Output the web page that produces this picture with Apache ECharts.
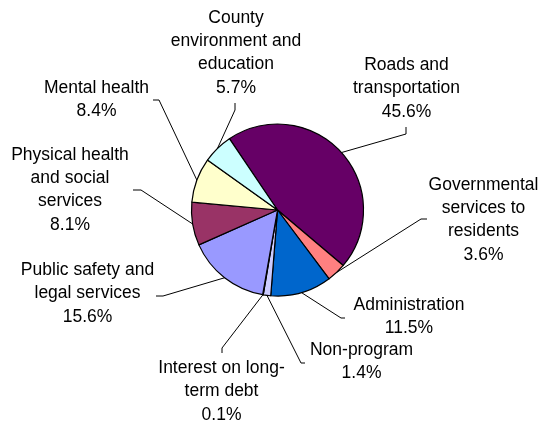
<!DOCTYPE html>
<html>
<head>
<meta charset="utf-8">
<script src="https://cdn.jsdelivr.net/npm/echarts@6/dist/echarts.min.js"></script>
<style>
html,body{margin:0;padding:0;background:#fff;}
#c{width:543px;height:422px;}
</style>
</head>
<body>
<div id="c"></div>
<script>
// Data (clockwise starting with Roads)
const categories = [
  "Roads and transportation",
  "Governmental services to residents",
  "Administration",
  "Non-program",
  "Interest on long-term debt",
  "Public safety and legal services",
  "Physical health and social services",
  "Mental health",
  "County environment and education"
];
const labelTexts = [
  "Roads and\ntransportation",
  "Governmental\nservices to\nresidents",
  "Administration",
  "Non-program",
  "Interest on long-\nterm debt",
  "Public safety and\nlegal services",
  "Physical health\nand social\nservices",
  "Mental health",
  "County\nenvironment and\neducation"
];
const percents = [45.6, 3.6, 11.5, 1.4, 0.1, 15.6, 8.1, 8.4, 5.7];
const colors = ["#660066", "#FF8080", "#0066CC", "#CCCCFF", "#000080", "#9999FF", "#993366", "#FFFFCC", "#CCFFFF"];

// Label layout: [labelCenterX, labelCenterY, lineEndX, lineEndY, elbowX, elbowY]
const labelLayoutPos = [
  [406.5, 88.5, 406, 127, 406, 134],
  [483.5, 220, 427, 219, 421, 219],
  [409, 316.5, 345, 318, 341, 318],
  [361.5, 362, 305, 363, 301, 363],
  [221.5, 391.5, 222, 353, 222, 348],
  [87.5, 293.5, 156, 296, 163, 296],
  [70, 190, 133, 190, 141, 190],
  [96.5, 100, 153, 100, 159, 100],
  [236, 53, 235, 103, 235, 110]
];

const chart = echarts.init(document.getElementById('c'), null, {renderer: 'canvas'});
chart.setOption({
  backgroundColor: '#ffffff',
  animation: false,
  series: [{
    type: 'pie',
    center: [277.5, 210],
    radius: 86,
    startAngle: 124,
    clockwise: true,
    avoidLabelOverlap: false,
    data: categories.map((n, i) => ({name: n, value: percents[i], itemStyle: {color: colors[i]}})),
    itemStyle: {borderColor: '#000', borderWidth: 1.2},
    label: {
      show: true,
      position: 'outside',
      formatter: p => labelTexts[p.dataIndex] + '\n' + percents[p.dataIndex].toFixed(1) + '%',
      fontFamily: 'Liberation Sans, Arial, sans-serif',
      fontSize: 17.5,
      lineHeight: 23.3,
      color: '#000',
      align: 'center'
    },
    labelLine: {show: true, length: 10, length2: 10, lineStyle: {color: '#000', width: 1}},
    labelLayout: function (params) {
      const p = labelLayoutPos[params.dataIndex];
      const start = params.labelLinePoints ? params.labelLinePoints[0] : [p[4], p[5]];
      return {
        x: p[0], y: p[1], align: 'center', verticalAlign: 'middle',
        labelLinePoints: [start, [p[4], p[5]], [p[2], p[3]]]
      };
    },
    emphasis: {disabled: true}
  }]
});
</script>
</body>
</html>
